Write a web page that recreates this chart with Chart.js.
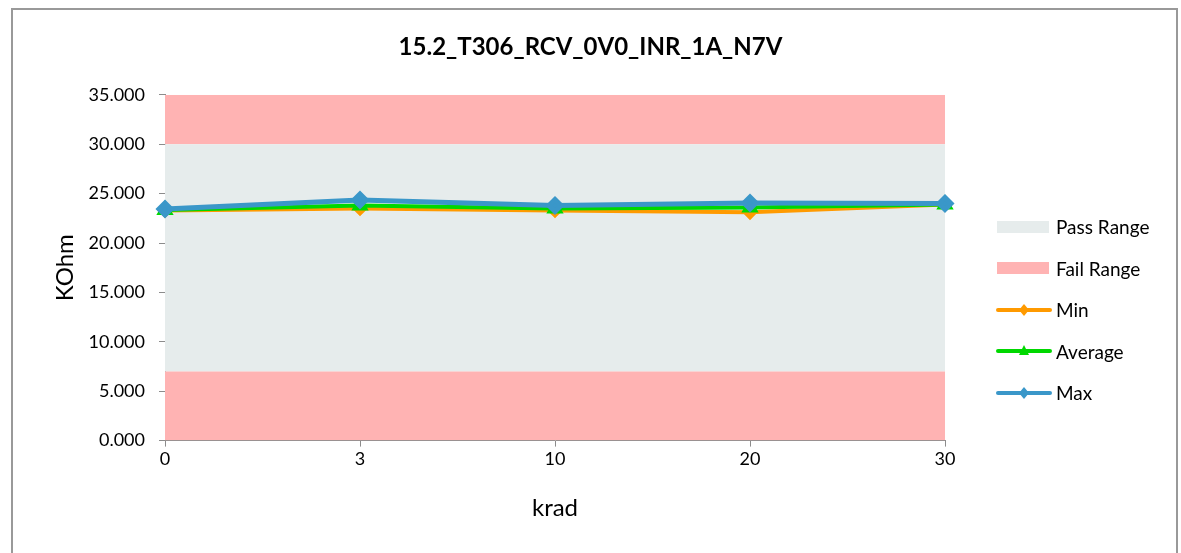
<!DOCTYPE html>
<html>
<head>
<meta charset="utf-8">
<script src="https://cdn.jsdelivr.net/npm/chart.js"></script>
<style>
  html, body { margin: 0; padding: 0; background: #fff; overflow: hidden; }
  #wrap { position: relative; width: 1181px; height: 553px; overflow: hidden; }
  #frame { position: absolute; left: 11px; top: 8px; width: 1167px; height: 560px; border: 2px solid #999; box-sizing: border-box; }
  #chart { position: absolute; left: 0; top: 0; }
  #legend { position: absolute; left: 996px; top: 206px; font-family: Lato, "Open Sans", sans-serif; font-size: 19px; color: #000; }
  #legend .item { height: 41.5px; display: flex; align-items: center; }
  #legend canvas { margin-right: 4px; }
</style>
</head>
<body>
<div id="wrap">
  <div id="frame"></div>
  <canvas id="chart" width="1181" height="553"></canvas>
  <div id="legend"></div>
</div>
<script>
// x 軸類別、數值
var krad = ['0', '3', '10', '20', '30'];
var minVals = [23.3, 23.5, 23.3, 23.1, 23.9];
var avgVals = [23.35, 23.8, 23.5, 23.6, 23.9];
var maxVals = [23.45, 24.35, 23.8, 24.05, 24.0];
// 範圍帶
var failLow = [7, 7, 7, 7, 7];
var passHigh = [30, 30, 30, 30, 30];
var failHigh = [35, 35, 35, 35, 35];
var yTicks = [0, 5, 10, 15, 20, 25, 30, 35];

var passColor = '#e6ecec';
var failColor = '#ffb3b3';
var minColor = '#ff9a00';
var avgColor = '#00d800';
var maxColor = '#3a97c9';

var font = 'Lato, "Open Sans", sans-serif';

function band(label, data, fill, color) {
    return {
        label: label,
        data: data,
        fill: fill,
        backgroundColor: color,
        borderWidth: 0,
        pointRadius: 0,
        order: 10
    };
}

var ctx = document.getElementById('chart');
var chart = new Chart(ctx, {
    type: 'line',
    data: {
        labels: krad,
        datasets: [
            band('Fail Range', failLow, 'origin', failColor),
            band('Pass Range', passHigh, '-1', passColor),
            band('Fail Range', failHigh, '-1', failColor),
            {
                label: 'Min', data: minVals, borderColor: minColor, backgroundColor: minColor,
                borderWidth: 4, pointStyle: 'rectRot', pointRadius: 5, order: 3
            },
            {
                label: 'Average', data: avgVals, borderColor: avgColor, backgroundColor: avgColor,
                borderWidth: 4, pointStyle: 'triangle', pointRadius: 6, order: 2
            },
            {
                label: 'Max', data: maxVals, borderColor: maxColor, backgroundColor: maxColor,
                borderWidth: 5, pointStyle: 'rectRot', pointRadius: 6, order: 1
            }
        ]
    },
    options: {
        responsive: false,
        animation: false,
        layout: { padding: { top: 20, right: 28, bottom: 24, left: 28 } },
        plugins: {
            legend: { display: false },
            tooltip: { enabled: false },
            title: {
                display: true,
                text: '15.2_T306_RCV_0V0_INR_1A_N7V',
                color: '#000',
                font: { family: font, size: 24, weight: 'bold' },
                padding: { top: 13, bottom: 33 }
            }
        },
        scales: {
            x: {
                offset: false,
                grid: { drawOnChartArea: false, drawTicks: true, tickLength: 6, color: '#8c8c8c' },
                border: { color: '#8c8c8c' },
                ticks: { color: '#000', font: { family: font, size: 18 }, padding: 2, maxRotation: 0 },
                title: { display: true, text: 'krad', color: '#000', font: { family: font, size: 24 }, padding: { top: 22, bottom: 6 } }
            },
            y: {
                min: 0,
                max: 35,
                afterBuildTicks: function (axis) {
                    axis.ticks = yTicks.map(function (v) { return { value: v }; });
                },
                afterFit: function (axis) { axis.width = 137; },
                grid: { drawOnChartArea: false, drawTicks: true, tickLength: 6, color: '#8c8c8c' },
                border: { color: '#8c8c8c' },
                ticks: {
                    color: '#000',
                    font: { family: font, size: 18 },
                    padding: 14,
                    callback: function (value) { return Number(value).toFixed(3); }
                },
                title: { display: true, text: 'KOhm', color: '#000', font: { family: font, size: 24 }, padding: { top: 23, bottom: 0 } }
            },
            // 右側留白給圖例
            legendSpace: {
                type: 'linear',
                position: 'right',
                grid: { display: false },
                border: { display: false },
                ticks: { display: false },
                afterFit: function (axis) { axis.width = 208; }
            }
        }
    }
});

// 圖例
var legendItems = [
    { label: 'Pass Range', kind: 'box', color: passColor },
    { label: 'Fail Range', kind: 'box', color: failColor },
    { label: 'Min', kind: 'line', color: minColor, marker: 'diamond' },
    { label: 'Average', kind: 'line', color: avgColor, marker: 'triangle' },
    { label: 'Max', kind: 'line', color: maxColor, marker: 'diamond' }
];
var legendDiv = document.getElementById('legend');
legendItems.forEach(function (it) {
    var row = document.createElement('div');
    row.className = 'item';
    var c = document.createElement('canvas');
    c.width = 56; c.height = 14;
    var g = c.getContext('2d');
    g.fillStyle = it.color;
    g.strokeStyle = it.color;
    if (it.kind === 'box') {
        g.fillRect(1, 1, 52, 12);
    } else {
        g.lineWidth = 4;
        g.lineCap = 'round';
        g.beginPath(); g.moveTo(2, 7); g.lineTo(54, 7); g.stroke();
        g.beginPath();
        if (it.marker === 'diamond') {
            g.moveTo(28, 1); g.lineTo(33, 7); g.lineTo(28, 13); g.lineTo(23, 7);
        } else {
            g.moveTo(28, 1); g.lineTo(33, 11); g.lineTo(23, 11);
        }
        g.closePath(); g.fill();
    }
    row.appendChild(c);
    var s = document.createElement('span');
    s.textContent = it.label;
    row.appendChild(s);
    legendDiv.appendChild(row);
});
</script>
</body>
</html>
